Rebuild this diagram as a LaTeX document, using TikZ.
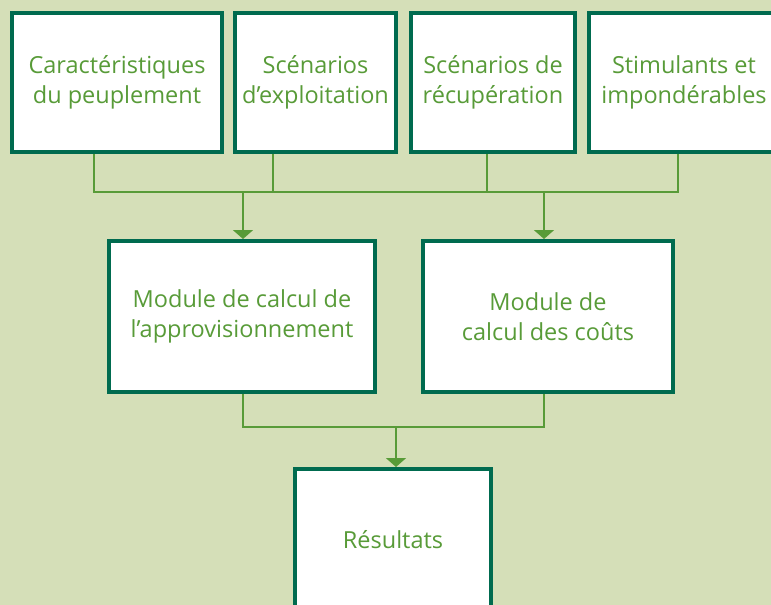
\documentclass[tikz,border=0pt]{standalone}
\usepackage{fontspec}
\setmainfont{Open Sans}
\usepackage{tikz}
\usetikzlibrary{arrows.meta}
\definecolor{fond}{RGB}{213,223,184}
\definecolor{cadre}{RGB}{0,107,79}
\definecolor{texte}{RGB}{88,155,56}

\begin{document}
\begin{tikzpicture}[x=1pt, y=-1pt,
    boite/.style={draw=cadre, line width=4pt, fill=white, text=texte, align=center,
      font=\fontsize{23.5}{30}\selectfont},
    lien/.style={draw=texte, line width=2pt},
    fleche/.style={lien, -{Triangle[width=20pt,length=9pt]}}]
  \useasboundingbox (0,0) rectangle (771,605);
  \clip (0,0) rectangle (771,605);
  \fill[fond] (0,0) rectangle (771,605);

  % entrees
  \node[boite, minimum width=210pt, minimum height=139pt] (peup) at (117,82.5) {Caractéristiques\\du peuplement};
  \node[boite, minimum width=161pt, minimum height=139pt] (expl) at (315.5,82.5) {Scénarios\\d’exploitation};
  \node[boite, minimum width=164pt, minimum height=139pt] (recup) at (493,82.5) {Scénarios de\\récupération};
  \node[boite, minimum width=190pt, minimum height=139pt] (stim) at (684,82.5) {Stimulants et\\impondérables};

  % modules
  \node[boite, minimum width=266pt, minimum height=151pt] (appro) at (242,316.5) {Module de calcul de\\l’approvisionnement};
  \node[boite, minimum width=250pt, minimum height=151pt] (couts) at (548,316.5) {Module de\\calcul des coûts};

  % sortie
  \node[boite, minimum width=196pt, minimum height=142pt] (res) at (393,540) {Résultats};

  \coordinate (j1) at (94,192);
  \coordinate (j2) at (273,192);
  \coordinate (j3) at (487,192);
  \coordinate (j4) at (678,192);
  \coordinate (a1) at (243,192);
  \coordinate (a2) at (544,192);
  \coordinate (b1) at (243,427);
  \coordinate (b2) at (544,427);
  \coordinate (b3) at (396,427);

  \draw[lien] (peup.south -| j1) -- (j1) -- (j4) -- (stim.south -| j4);
  \draw[lien] (expl.south -| j2) -- (j2);
  \draw[lien] (recup.south -| j3) -- (j3);
  \draw[fleche] (a1) -- (appro.north -| a1);
  \draw[fleche] (a2) -- (couts.north -| a2);

  \draw[lien] (appro.south -| b1) -- (b1) -- (b2) -- (couts.south -| b2);
  \draw[fleche] (b3) -- (res.north -| b3);
\end{tikzpicture}
\end{document}
